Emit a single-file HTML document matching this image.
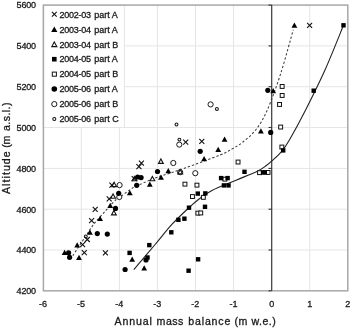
<!DOCTYPE html>
<html><head><meta charset="utf-8"><style>
html,body{margin:0;padding:0;background:#fff;}
svg{display:block;will-change:transform;}
text{font-family:"Liberation Sans",sans-serif;fill:#1a1a1a;stroke:#1a1a1a;stroke-width:0.3px;}
.t text{stroke-width:0.3px;}
</style></head><body>
<svg width="350" height="328" viewBox="0 0 350 328">
<rect width="350" height="328" fill="#fff"/>
<g stroke="#e5e5e5" stroke-width="1"><line x1="81.3" y1="5.1" x2="81.3" y2="290.8"/><line x1="119.4" y1="5.1" x2="119.4" y2="290.8"/><line x1="157.4" y1="5.1" x2="157.4" y2="290.8"/><line x1="195.5" y1="5.1" x2="195.5" y2="290.8"/><line x1="233.6" y1="5.1" x2="233.6" y2="290.8"/><line x1="309.7" y1="5.1" x2="309.7" y2="290.8"/><line x1="43.2" y1="250.0" x2="347.8" y2="250.0"/><line x1="43.2" y1="209.2" x2="347.8" y2="209.2"/><line x1="43.2" y1="168.4" x2="347.8" y2="168.4"/><line x1="43.2" y1="127.5" x2="347.8" y2="127.5"/><line x1="43.2" y1="86.7" x2="347.8" y2="86.7"/><line x1="43.2" y1="45.9" x2="347.8" y2="45.9"/></g>
<rect x="43.2" y="5.1" width="81.2" height="122.4" fill="#fff" stroke="#e5e5e5" stroke-width="1"/>
<rect x="43.4" y="5.1" width="304.4" height="285.7" fill="none" stroke="#a8a8a8" stroke-width="1.5"/>
<line x1="271.7" y1="5.1" x2="271.7" y2="290.8" stroke="#383838" stroke-width="1.2"/>
<g stroke="#333" stroke-width="1.1"><line x1="268.5" y1="290.8" x2="271.7" y2="290.8"/><line x1="268.5" y1="250.0" x2="271.7" y2="250.0"/><line x1="268.5" y1="209.2" x2="271.7" y2="209.2"/><line x1="268.5" y1="168.4" x2="271.7" y2="168.4"/><line x1="268.5" y1="127.5" x2="271.7" y2="127.5"/><line x1="268.5" y1="86.7" x2="271.7" y2="86.7"/><line x1="268.5" y1="45.9" x2="271.7" y2="45.9"/><line x1="268.5" y1="5.1" x2="271.7" y2="5.1"/></g>
<path d="M72.8 255.6C75.1 252.2 83.0 240.2 86.5 235.0C90.0 229.8 90.2 228.8 93.5 224.6C96.8 220.4 102.3 214.4 106.3 210.0C110.3 205.6 114.6 200.8 117.3 198.4C120.0 196.0 119.8 197.1 122.3 195.4C124.8 193.7 128.6 190.3 132.6 188.0C136.6 185.7 142.1 183.5 146.3 181.7C150.5 179.9 151.2 179.4 157.7 177.1C164.1 174.8 174.6 171.8 185.0 168.1C195.4 164.4 212.1 158.2 220.0 155.0C227.9 151.8 228.4 151.1 232.2 148.9C236.0 146.7 239.0 145.2 242.9 142.0C246.8 138.8 251.7 135.1 255.8 129.8C259.9 124.5 263.2 119.3 267.3 110.0C271.4 100.7 276.3 87.2 280.6 73.8C284.9 60.4 291.2 37.0 293.3 29.6" fill="none" stroke="#3a3a3a" stroke-width="1.05" stroke-dasharray="2.3 2.0"/>
<path d="M133.8 269.7C137.3 265.6 148.3 252.6 154.7 245.0C161.1 237.4 166.4 230.4 172.1 224.2C177.8 218.0 184.4 211.9 189.0 207.6C193.6 203.3 195.9 201.4 199.7 198.5C203.5 195.6 205.9 193.5 212.0 190.4C218.1 187.3 228.4 183.4 236.0 180.2C243.6 177.0 252.4 173.6 257.4 171.2C262.4 168.8 263.6 167.5 266.0 165.8C268.4 164.1 269.0 163.6 271.6 161.2C274.2 158.8 278.5 155.1 281.5 151.6C284.5 148.1 285.4 146.9 289.4 140.0C293.4 133.1 299.7 121.7 305.6 110.0C311.5 98.3 318.7 84.1 325.0 70.0C331.3 55.9 340.4 32.8 343.5 25.3" fill="none" stroke="#222" stroke-width="1.1"/>
<rect x="280.2" y="84.5" width="3.9" height="3.9" fill="#fff" stroke="#111" stroke-width="1.0"/><rect x="280.2" y="93.5" width="3.9" height="3.9" fill="#fff" stroke="#111" stroke-width="1.0"/><rect x="277.6" y="102.5" width="3.9" height="3.9" fill="#fff" stroke="#111" stroke-width="1.0"/><rect x="278.7" y="125.1" width="3.9" height="3.9" fill="#fff" stroke="#111" stroke-width="1.0"/><rect x="279.9" y="145.1" width="3.9" height="3.9" fill="#fff" stroke="#111" stroke-width="1.0"/><rect x="257.6" y="170.7" width="3.9" height="3.9" fill="#fff" stroke="#111" stroke-width="1.0"/><rect x="266.1" y="170.5" width="3.9" height="3.9" fill="#fff" stroke="#111" stroke-width="1.0"/><rect x="236.1" y="160.1" width="3.9" height="3.9" fill="#fff" stroke="#111" stroke-width="1.0"/><rect x="222.9" y="177.2" width="3.9" height="3.9" fill="#fff" stroke="#111" stroke-width="1.0"/><rect x="183.0" y="182.2" width="3.9" height="3.9" fill="#fff" stroke="#111" stroke-width="1.0"/><rect x="195.0" y="183.2" width="3.9" height="3.9" fill="#fff" stroke="#111" stroke-width="1.0"/><rect x="190.5" y="194.6" width="3.9" height="3.9" fill="#fff" stroke="#111" stroke-width="1.0"/><rect x="201.4" y="195.4" width="3.9" height="3.9" fill="#fff" stroke="#111" stroke-width="1.0"/><rect x="195.9" y="211.2" width="3.9" height="3.9" fill="#fff" stroke="#111" stroke-width="1.0"/><rect x="198.8" y="211.0" width="3.9" height="3.9" fill="#fff" stroke="#111" stroke-width="1.0"/><circle cx="210.6" cy="104.4" r="2.60" fill="#fff" stroke="#1a1a1a" stroke-width="1.0"/><circle cx="179.3" cy="144.6" r="2.60" fill="#fff" stroke="#1a1a1a" stroke-width="1.0"/><circle cx="173.3" cy="163.0" r="2.60" fill="#fff" stroke="#1a1a1a" stroke-width="1.0"/><circle cx="180.2" cy="172.2" r="2.60" fill="#fff" stroke="#1a1a1a" stroke-width="1.0"/><circle cx="195.3" cy="173.2" r="2.60" fill="#fff" stroke="#1a1a1a" stroke-width="1.0"/><circle cx="119.6" cy="185.1" r="2.60" fill="#fff" stroke="#1a1a1a" stroke-width="1.0"/><circle cx="119.3" cy="197.0" r="2.60" fill="#fff" stroke="#1a1a1a" stroke-width="1.0"/><path d="M160.9 159.0L163.3 163.4L158.5 163.4Z" fill="#fff" stroke="#111" stroke-width="1.1"/><path d="M180.2 169.5L182.6 173.9L177.8 173.9Z" fill="#fff" stroke="#111" stroke-width="1.1"/><path d="M152.4 176.4L154.8 180.8L150.0 180.8Z" fill="#fff" stroke="#111" stroke-width="1.1"/><path d="M134.5 176.4L136.9 180.8L132.1 180.8Z" fill="#fff" stroke="#111" stroke-width="1.1"/><path d="M114.1 182.2L116.5 186.6L111.7 186.6Z" fill="#fff" stroke="#111" stroke-width="1.1"/><path d="M113.1 193.9L115.5 198.3L110.7 198.3Z" fill="#fff" stroke="#111" stroke-width="1.1"/><path d="M113.9 210.5L116.3 214.9L111.5 214.9Z" fill="#fff" stroke="#111" stroke-width="1.1"/><circle cx="216.9" cy="108.9" r="1.45" fill="#fff" stroke="#111" stroke-width="1.05"/><circle cx="176.5" cy="124.5" r="1.45" fill="#fff" stroke="#111" stroke-width="1.05"/><circle cx="179.4" cy="139.6" r="1.45" fill="#fff" stroke="#111" stroke-width="1.05"/><circle cx="85.8" cy="236.5" r="1.45" fill="#fff" stroke="#111" stroke-width="1.05"/><path d="M307.1 22.9L312.1 27.9M307.1 27.9L312.1 22.9" stroke="#111" stroke-width="1.1" fill="none"/><path d="M138.9 160.6L143.9 165.6M138.9 165.6L143.9 160.6" stroke="#111" stroke-width="1.1" fill="none"/><path d="M136.4 164.2L141.4 169.2M136.4 169.2L141.4 164.2" stroke="#111" stroke-width="1.1" fill="none"/><path d="M131.7 176.1L136.7 181.1M131.7 181.1L136.7 176.1" stroke="#111" stroke-width="1.1" fill="none"/><path d="M109.4 182.6L114.4 187.6M109.4 187.6L114.4 182.6" stroke="#111" stroke-width="1.1" fill="none"/><path d="M106.7 196.3L111.7 201.3M106.7 201.3L111.7 196.3" stroke="#111" stroke-width="1.1" fill="none"/><path d="M92.7 206.8L97.7 211.8M92.7 211.8L97.7 206.8" stroke="#111" stroke-width="1.1" fill="none"/><path d="M89.1 218.1L94.1 223.1M89.1 223.1L94.1 218.1" stroke="#111" stroke-width="1.1" fill="none"/><path d="M84.8 237.0L89.8 242.0M84.8 242.0L89.8 237.0" stroke="#111" stroke-width="1.1" fill="none"/><path d="M80.1 242.2L85.1 247.2M80.1 247.2L85.1 242.2" stroke="#111" stroke-width="1.1" fill="none"/><path d="M81.8 250.1L86.8 255.1M81.8 255.1L86.8 250.1" stroke="#111" stroke-width="1.1" fill="none"/><path d="M102.9 250.3L107.9 255.3M102.9 255.3L107.9 250.3" stroke="#111" stroke-width="1.1" fill="none"/><path d="M183.2 139.7L188.2 144.7M183.2 144.7L188.2 139.7" stroke="#111" stroke-width="1.1" fill="none"/><path d="M199.3 138.9L204.3 143.9M199.3 143.9L204.3 138.9" stroke="#111" stroke-width="1.1" fill="none"/><rect x="341.3" y="23.1" width="4.4" height="4.4" fill="#000"/><rect x="311.5" y="88.5" width="4.4" height="4.4" fill="#000"/><rect x="281.0" y="148.2" width="4.4" height="4.4" fill="#000"/><rect x="260.8" y="170.2" width="4.4" height="4.4" fill="#000"/><rect x="262.6" y="170.2" width="4.4" height="4.4" fill="#000"/><rect x="242.3" y="169.6" width="4.4" height="4.4" fill="#000"/><rect x="218.9" y="175.9" width="4.4" height="4.4" fill="#000"/><rect x="225.4" y="175.9" width="4.4" height="4.4" fill="#000"/><rect x="221.7" y="183.2" width="4.4" height="4.4" fill="#000"/><rect x="226.3" y="183.2" width="4.4" height="4.4" fill="#000"/><rect x="195.6" y="191.4" width="4.4" height="4.4" fill="#000"/><rect x="203.1" y="191.2" width="4.4" height="4.4" fill="#000"/><rect x="186.8" y="205.5" width="4.4" height="4.4" fill="#000"/><rect x="202.8" y="204.6" width="4.4" height="4.4" fill="#000"/><rect x="176.2" y="217.6" width="4.4" height="4.4" fill="#000"/><rect x="182.2" y="216.5" width="4.4" height="4.4" fill="#000"/><rect x="169.1" y="230.1" width="4.4" height="4.4" fill="#000"/><rect x="147.1" y="242.9" width="4.4" height="4.4" fill="#000"/><rect x="127.4" y="250.7" width="4.4" height="4.4" fill="#000"/><rect x="145.3" y="255.3" width="4.4" height="4.4" fill="#000"/><rect x="195.9" y="257.1" width="4.4" height="4.4" fill="#000"/><rect x="186.4" y="268.5" width="4.4" height="4.4" fill="#000"/><path d="M294.4 22.4L297.3 27.7L291.5 27.7Z" fill="#000"/><path d="M273.2 88.0L276.1 93.3L270.3 93.3Z" fill="#000"/><path d="M260.9 128.3L263.8 133.6L258.0 133.6Z" fill="#000"/><path d="M224.6 136.4L227.5 141.7L221.7 141.7Z" fill="#000"/><path d="M218.2 146.8L221.1 152.1L215.3 152.1Z" fill="#000"/><path d="M204.1 156.0L207.0 161.3L201.2 161.3Z" fill="#000"/><path d="M168.3 168.0L171.2 173.3L165.4 173.3Z" fill="#000"/><path d="M161.0 174.5L163.9 179.8L158.1 179.8Z" fill="#000"/><path d="M149.8 181.4L152.7 186.7L146.9 186.7Z" fill="#000"/><path d="M129.8 189.9L132.7 195.2L126.9 195.2Z" fill="#000"/><path d="M110.2 202.8L113.1 208.1L107.3 208.1Z" fill="#000"/><path d="M100.1 215.8L103.0 221.1L97.2 221.1Z" fill="#000"/><path d="M89.9 229.5L92.8 234.8L87.0 234.8Z" fill="#000"/><path d="M77.2 242.3L80.1 247.6L74.3 247.6Z" fill="#000"/><path d="M64.6 249.7L67.5 255.0L61.7 255.0Z" fill="#000"/><path d="M79.0 254.7L81.9 260.0L76.1 260.0Z" fill="#000"/><path d="M132.2 256.4L135.1 261.7L129.3 261.7Z" fill="#000"/><path d="M144.2 265.3L147.1 270.6L141.3 270.6Z" fill="#000"/><circle cx="68.6" cy="252.8" r="2.6" fill="#000"/><circle cx="267.8" cy="90.3" r="2.6" fill="#000"/><circle cx="270.7" cy="132.4" r="2.6" fill="#000"/><circle cx="200.2" cy="151.3" r="2.6" fill="#000"/><circle cx="157.5" cy="171.5" r="2.6" fill="#000"/><circle cx="137.7" cy="177.0" r="2.6" fill="#000"/><circle cx="141.1" cy="177.6" r="2.6" fill="#000"/><circle cx="136.7" cy="185.3" r="2.6" fill="#000"/><circle cx="118.7" cy="193.3" r="2.6" fill="#000"/><circle cx="115.5" cy="208.4" r="2.6" fill="#000"/><circle cx="97.3" cy="233.6" r="2.6" fill="#000"/><circle cx="107.3" cy="234.1" r="2.6" fill="#000"/><circle cx="69.6" cy="257.3" r="2.6" fill="#000"/><circle cx="125.1" cy="269.5" r="2.6" fill="#000"/><circle cx="146.0" cy="260.0" r="2.6" fill="#000"/>
<g font-size="9"><path d="M51.9 11.9L56.7 16.7M51.9 16.7L56.7 11.9" stroke="#111" stroke-width="1.1" fill="none"/><text x="59.5" y="17.5" textLength="31.4" lengthAdjust="spacing">2002-03</text><text x="94.3" y="17.5">part A</text><path d="M54.3 26.4L57.4 32.1L51.2 32.1Z" fill="#000"/><text x="59.5" y="32.8" textLength="31.4" lengthAdjust="spacing">2003-04</text><text x="94.3" y="32.8">part A</text><path d="M54.3 42.0L56.8 46.6L51.8 46.6Z" fill="#fff" stroke="#111" stroke-width="1.1"/><text x="59.5" y="47.8" textLength="31.4" lengthAdjust="spacing">2003-04</text><text x="94.3" y="47.8">part B</text><rect x="52.0" y="56.9" width="4.6" height="4.6" fill="#000"/><text x="59.5" y="62.4" textLength="31.4" lengthAdjust="spacing">2004-05</text><text x="94.3" y="62.4">part A</text><rect x="52.3" y="72.1" width="4.1" height="4.1" fill="#fff" stroke="#111" stroke-width="1.0"/><text x="59.5" y="77.3" textLength="31.4" lengthAdjust="spacing">2004-05</text><text x="94.3" y="77.3">part B</text><circle cx="54.3" cy="89.0" r="2.8" fill="#000"/><text x="59.5" y="92.2" textLength="31.4" lengthAdjust="spacing">2005-06</text><text x="94.3" y="92.2">part A</text><circle cx="54.3" cy="104.1" r="2.60" fill="#fff" stroke="#1a1a1a" stroke-width="1.0"/><text x="59.5" y="107.3" textLength="31.4" lengthAdjust="spacing">2005-06</text><text x="94.3" y="107.3">part B</text><circle cx="54.3" cy="119.0" r="1.52" fill="#fff" stroke="#111" stroke-width="1.05"/><text x="59.5" y="122.2" textLength="31.4" lengthAdjust="spacing">2005-06</text><text x="94.3" y="122.2">part C</text></g>
<g font-size="9"><text x="36.0" y="294.1" text-anchor="end" textLength="19.4" lengthAdjust="spacing">4200</text><text x="36.0" y="253.3" text-anchor="end" textLength="19.4" lengthAdjust="spacing">4400</text><text x="36.0" y="212.5" text-anchor="end" textLength="19.4" lengthAdjust="spacing">4600</text><text x="36.0" y="171.7" text-anchor="end" textLength="19.4" lengthAdjust="spacing">4800</text><text x="36.0" y="130.8" text-anchor="end" textLength="19.4" lengthAdjust="spacing">5000</text><text x="36.0" y="90.0" text-anchor="end" textLength="19.4" lengthAdjust="spacing">5200</text><text x="36.0" y="49.2" text-anchor="end" textLength="19.4" lengthAdjust="spacing">5400</text><text x="36.0" y="8.4" text-anchor="end" textLength="19.4" lengthAdjust="spacing">5600</text><text x="43.0" y="306.9" text-anchor="middle">-6</text><text x="81.1" y="306.9" text-anchor="middle">-5</text><text x="119.2" y="306.9" text-anchor="middle">-4</text><text x="157.2" y="306.9" text-anchor="middle">-3</text><text x="195.3" y="306.9" text-anchor="middle">-2</text><text x="233.4" y="306.9" text-anchor="middle">-1</text><text x="271.7" y="306.9" text-anchor="middle">0</text><text x="309.7" y="306.9" text-anchor="middle">1</text><text x="347.8" y="306.9" text-anchor="middle">2</text></g>
<g font-size="10.6" class="t">
<text x="114.6" y="325.0" textLength="37.3" lengthAdjust="spacing">Annual</text>
<text x="156.6" y="325.0" textLength="26.7" lengthAdjust="spacing">mass</text>
<text x="188.3" y="325.0" textLength="42.0" lengthAdjust="spacing">balance</text>
<text x="234.6" y="325.0" textLength="12.8" lengthAdjust="spacing">(m</text>
<text x="251.5" y="325.0" textLength="24.3" lengthAdjust="spacing">w.e.)</text>
<g transform="rotate(-90)">
<text x="-194.0" y="10.2" textLength="42.7" lengthAdjust="spacing">Altitude</text>
<text x="-147.7" y="10.2" textLength="12.0" lengthAdjust="spacing">(m</text>
<text x="-131.0" y="10.2" textLength="28.5" lengthAdjust="spacing">a.s.l.)</text>
</g></g>
</svg>
</body></html>
